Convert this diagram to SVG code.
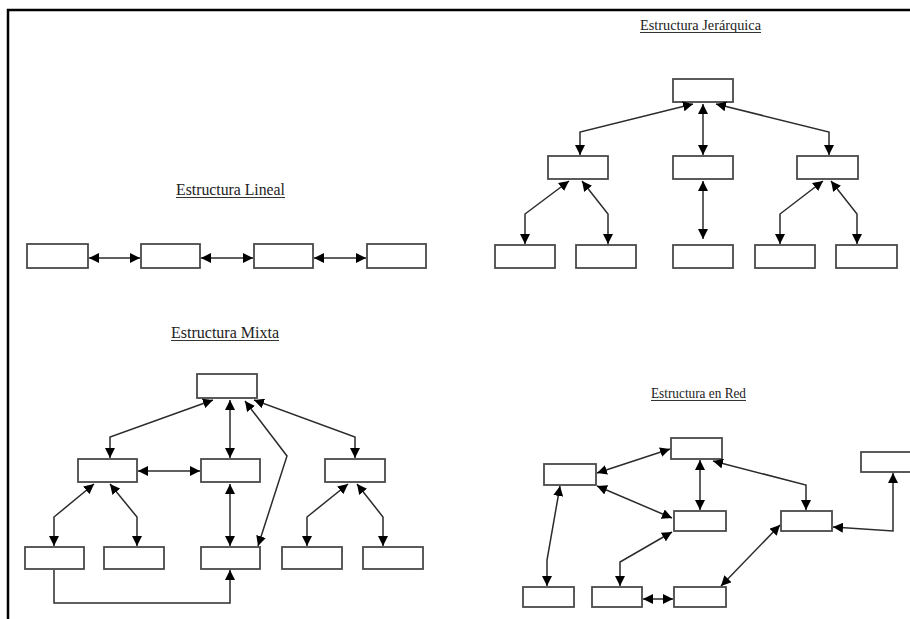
<svg xmlns="http://www.w3.org/2000/svg" width="910" height="619" viewBox="0 0 910 619">
  <style>
    .box { fill: #ffffff; stroke: #4a4a4a; stroke-width: 1.8; }
    .con { fill: none; stroke: #2b2b2b; stroke-width: 1.5; }
    .bi { marker-start: url(#ah); marker-end: url(#ah); }
    .one { marker-end: url(#ah); }
    .title { font-family: "Liberation Serif", "Times New Roman", serif; fill: #222; text-anchor: middle; }
    .ul { stroke: #333; stroke-width: 1; }
  </style>
  <defs>
    <marker id="ah" markerUnits="userSpaceOnUse" markerWidth="10" markerHeight="10" refX="10" refY="5" orient="auto-start-reverse" viewBox="0 0 10 10">
      <path d="M0,0 L10,5 L0,10 Z" fill="#000"/>
    </marker>
  </defs>

  <rect width="910" height="619" fill="#ffffff"/>
  <!-- page frame -->
  <path d="M8,619 L8,10 L910,10" fill="none" stroke="#000" stroke-width="2.5"/>

  <!-- titles -->
  <g id="titles">
    <text class="title" x="700.5" y="30" font-size="15" textLength="121" lengthAdjust="spacingAndGlyphs">Estructura Jerárquica</text>
    <line class="ul" x1="640" y1="32.5" x2="761" y2="32.5"/>
    <text class="title" x="230.5" y="195" font-size="16" textLength="109" lengthAdjust="spacingAndGlyphs">Estructura Lineal</text>
    <line class="ul" x1="176" y1="197.5" x2="285" y2="197.5"/>
    <text class="title" x="225" y="338" font-size="16" textLength="108" lengthAdjust="spacingAndGlyphs">Estructura Mixta</text>
    <line class="ul" x1="171" y1="340.5" x2="279" y2="340.5"/>
    <text class="title" x="698.5" y="398" font-size="14" textLength="95" lengthAdjust="spacingAndGlyphs">Estructura en Red</text>
    <line class="ul" x1="651" y1="400.5" x2="746" y2="400.5"/>
  </g>

  <!-- linear structure -->
  <g id="lin-1"><rect class="box" x="27" y="244" width="61" height="24"/></g>
  <g id="lin-2"><rect class="box" x="141" y="244" width="59" height="24"/></g>
  <g id="lin-3"><rect class="box" x="254" y="244" width="59" height="24"/></g>
  <g id="lin-4"><rect class="box" x="367" y="244" width="59" height="24"/></g>

  <!-- hierarchical structure -->
  <g id="jer-root"><rect class="box" x="673" y="79" width="60" height="23"/></g>
  <g id="jer-a"><rect class="box" x="548" y="156" width="60" height="23"/></g>
  <g id="jer-b"><rect class="box" x="673" y="156" width="60" height="23"/></g>
  <g id="jer-c"><rect class="box" x="797" y="156" width="61" height="23"/></g>
  <g id="jer-a1"><rect class="box" x="495" y="245" width="60" height="23"/></g>
  <g id="jer-a2"><rect class="box" x="576" y="245" width="60" height="23"/></g>
  <g id="jer-b1"><rect class="box" x="673" y="245" width="60" height="23"/></g>
  <g id="jer-c1"><rect class="box" x="755" y="245" width="60" height="23"/></g>
  <g id="jer-c2"><rect class="box" x="836" y="245" width="61" height="23"/></g>

  <!-- mixed structure -->
  <g id="mix-root"><rect class="box" x="197" y="374" width="60" height="24"/></g>
  <g id="mix-a"><rect class="box" x="78" y="459" width="59" height="23"/></g>
  <g id="mix-b"><rect class="box" x="201" y="459" width="59" height="23"/></g>
  <g id="mix-c"><rect class="box" x="325" y="459" width="60" height="23"/></g>
  <g id="mix-a1"><rect class="box" x="25" y="547" width="59" height="22"/></g>
  <g id="mix-a2"><rect class="box" x="104" y="547" width="60" height="22"/></g>
  <g id="mix-b1"><rect class="box" x="201" y="547" width="59" height="22"/></g>
  <g id="mix-c1"><rect class="box" x="282" y="547" width="60" height="22"/></g>
  <g id="mix-c2"><rect class="box" x="363" y="547" width="60" height="22"/></g>

  <!-- network structure -->
  <g id="red-a"><rect class="box" x="544" y="464" width="52" height="21"/></g>
  <g id="red-b"><rect class="box" x="671" y="438" width="51" height="21"/></g>
  <g id="red-c"><rect class="box" x="861" y="452" width="55" height="20"/></g>
  <g id="red-d"><rect class="box" x="674" y="511" width="52" height="20"/></g>
  <g id="red-e"><rect class="box" x="781" y="511" width="51" height="20"/></g>
  <g id="red-f"><rect class="box" x="523" y="587" width="51" height="20"/></g>
  <g id="red-g"><rect class="box" x="592" y="587" width="50" height="20"/></g>
  <g id="red-h"><rect class="box" x="674" y="587" width="52" height="20"/></g>

  <!-- connectors -->
  <g id="connectors">
    <!-- linear -->
    <path class="con bi" d="M89,258 L140,258"/>
    <path class="con bi" d="M201,258 L253,258"/>
    <path class="con bi" d="M314,258 L366,258"/>

    <!-- hierarchical -->
    <path class="con bi" d="M580,155 L580,132 L693,104"/>
    <path class="con bi" d="M703,104 L703,155"/>
    <path class="con bi" d="M716,104 L829,132 L829,155"/>
    <path class="con bi" d="M569,181 L525,214 L525,244"/>
    <path class="con bi" d="M582,181 L608,214 L608,244"/>
    <path class="con bi" d="M703,181 L703,239"/>
    <path class="con bi" d="M823,181 L780,214 L780,244"/>
    <path class="con bi" d="M831,181 L857,214 L857,244"/>

    <!-- mixed -->
    <path class="con bi" d="M213,400 L110,437 L110,458"/>
    <path class="con bi" d="M230,400 L230,458"/>
    <path class="con bi" d="M245,401 L287,456 L258,546"/>
    <path class="con bi" d="M254,400 L355,437 L355,458"/>
    <path class="con bi" d="M138,471 L200,471"/>
    <path class="con bi" d="M94,484 L54,517 L54,546"/>
    <path class="con bi" d="M110,484 L137,517 L137,546"/>
    <path class="con bi" d="M230,484 L230,546"/>
    <path class="con bi" d="M348,484 L307,517 L307,546"/>
    <path class="con bi" d="M357,484 L383,517 L383,546"/>
    <path class="con one" d="M54,570 L54,603 L230,603 L230,570"/>

    <!-- network -->
    <path class="con bi" d="M597,473 L670,449"/>
    <path class="con bi" d="M700,460 L700,510"/>
    <path class="con bi" d="M597,486 L672,518"/>
    <path class="con bi" d="M713,461 L806,485 L806,510"/>
    <path class="con bi" d="M833,527 L893,531 L893,473"/>
    <path class="con bi" d="M560,486 L547,560 L547,586"/>
    <path class="con bi" d="M672,532 L620,562 L620,586"/>
    <path class="con bi" d="M643,599 L673,599"/>
    <path class="con bi" d="M780,525 L721,586"/>
  </g>
</svg>
